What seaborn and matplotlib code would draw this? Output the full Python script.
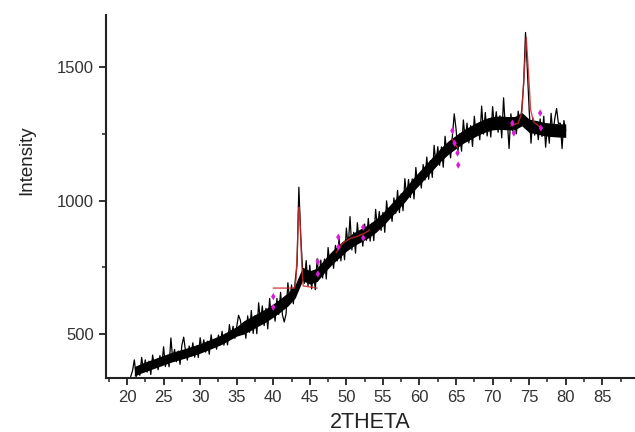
import numpy as np
import pandas as pd
import matplotlib
matplotlib.use("Agg")
import matplotlib.pyplot as plt
import seaborn as sns
from matplotlib.ticker import MultipleLocator

# measured pattern, 0.25 deg steps from 20.5 to 80.0
two_theta = np.arange(20.5, 80.001, 0.25)
intensity = [
    340, 362,
    403, 340, 378, 345,    # 21
    412, 364, 403, 357,    # 22
    398, 348, 421, 375,    # 23
    400, 366, 419, 381,    # 24
    452, 378, 419, 377,    # 25
    485, 404, 442, 396,    # 26
    436, 386, 458, 488,    # 27
    436, 402, 455, 417,    # 28
    467, 413, 454, 412,    # 29
    486, 439, 478, 432,    # 30
    473, 424, 497, 451,    # 31
    476, 443, 496, 459,    # 32
    510, 458, 500, 459,    # 33
    535, 489, 529, 484,    # 34
    526, 570, 552, 507,    # 35
    539, 484, 568, 506,    # 36
    588, 502, 568, 501,    # 37
    617, 543, 605, 531,    # 38
    596, 519, 633, 562,    # 39
    602, 548, 633, 573,    # 40
    656, 572, 545, 575,    # 41
    692, 620, 684, 613,    # 42
    700, 760, 1050, 870,   # 43
    745, 690, 775, 680,    # 44
    758, 669, 733, 666,    # 45
    782, 711, 777, 710,    # 46
    781, 706, 824, 756,    # 47
    799, 746, 832, 774,    # 48
    858, 774, 842, 778,    # 49
    897, 824, 940, 815,    # 50
    881, 803, 917, 844,    # 51
    884, 829, 912, 851,    # 52
    933, 848, 915, 850,    # 53
    967, 895, 959, 888,    # 54
    956, 881, 999, 930,    # 55
    974, 922, 1010, 952,   # 56
    1038, 955, 1025, 962,  # 57
    1082, 1013, 1079, 1011,  # 58
    1081, 1006, 1124, 1055,  # 59
    1099, 1047, 1135, 1077,  # 60
    1163, 1080, 1150, 1087,  # 61
    1207, 1136, 1202, 1132,  # 62
    1201, 1125, 1241, 1172,  # 63
    1214, 1160, 1245, 1325,  # 64
    1268, 1183, 1250, 1185,  # 65
    1302, 1228, 1290, 1216,  # 66
    1281, 1203, 1316, 1244,  # 67
    1284, 1228, 1354, 1249,  # 68
    1330, 1242, 1306, 1238,  # 69
    1352, 1274, 1333, 1256,  # 70
    1318, 1235, 1385, 1268,  # 71
    1304, 1195, 1325, 1260,  # 72
    1300, 1250, 1335, 1290,  # 73
    1345, 1440, 1630, 1490,  # 74
    1340, 1215, 1310, 1245,  # 75
    1289, 1228, 1306, 1240,  # 76
    1316, 1200, 1286, 1215,  # 77
    1327, 1249, 1307, 1345,  # 78
    1289, 1290, 1195, 1300,  # 79
    1262,
]

# solid core of the noisy trace, 1 deg steps 21..80
band_theta = np.arange(21, 81, 1)
band_lo = [342, 354, 364, 374, 384, 394, 402, 410, 419, 428,
           439, 450, 462, 477, 492, 500, 515, 530, 545, 563,
           583, 605, 635, 700, 687, 697, 730, 760, 785, 810,
           830, 845, 860, 880, 905, 935, 965, 995, 1030, 1060,
           1090, 1120, 1150, 1175, 1195, 1215, 1230, 1245, 1257, 1265,
           1267, 1265, 1265, 1280, 1255, 1250, 1243, 1240, 1238, 1237]
band_hi = [378, 390, 400, 410, 420, 430, 438, 446, 455, 464,
           475, 486, 498, 513, 528, 550, 565, 580, 595, 613,
           633, 655, 685, 750, 737, 747, 780, 810, 835, 860,
           880, 895, 910, 930, 955, 985, 1015, 1045, 1080, 1110,
           1140, 1170, 1200, 1225, 1245, 1265, 1280, 1295, 1307, 1315,
           1317, 1315, 1315, 1330, 1305, 1300, 1293, 1290, 1288, 1287]

# peak fits (red)
fit1_x = [40.0, 42.9, 43.1, 43.3, 43.45, 43.55, 43.7, 43.9, 44.1, 46.0]
fit1_y = [672, 672, 700, 820, 960, 975, 900, 760, 680, 672]
fit2_x = [48.6, 49.5, 50.5, 51.5, 52.5, 53.2]
fit2_y = [805, 840, 858, 866, 878, 890]
fit3_x = [64.4, 64.8, 65.2]
fit3_y = [1232, 1215, 1198]
fit4_x = [72.5, 73.5, 74.0, 74.3, 74.6, 74.9, 75.2, 75.6, 76.5]
fit4_y = [1280, 1290, 1330, 1470, 1612, 1480, 1340, 1295, 1275]

# fitted points (magenta)
mark_x = [40.0, 40.0, 46.1, 46.1, 48.9, 48.9, 52.3, 52.3,
          64.5, 64.8, 65.2, 65.3, 72.7, 72.9, 76.5, 76.6]
mark_y = [600, 640, 770, 725, 863, 826, 900, 860,
          1262, 1215, 1178, 1133, 1290, 1253, 1328, 1272]

sns.set_style("ticks")
plt.rcParams['font.family'] = ['Liberation Sans', 'DejaVu Sans']

fig = plt.figure(figsize=(6.35, 4.32), dpi=100)
ax = fig.add_axes([0.167, 0.125, 0.831, 0.840])

ax.fill_between(band_theta, band_lo, band_hi, color="black", lw=0, zorder=1)

df = pd.DataFrame({"2THETA": two_theta, "Intensity": intensity})
sns.lineplot(data=df, x="2THETA", y="Intensity", color="black", lw=0.9,
             estimator=None, sort=False, ax=ax, zorder=2)

for fx, fy in [(fit1_x, fit1_y), (fit2_x, fit2_y), (fit3_x, fit3_y), (fit4_x, fit4_y)]:
    ax.plot(fx, fy, color="#cc2a2a", lw=1.0, alpha=0.85, zorder=3)

sns.scatterplot(x=mark_x, y=mark_y, marker="d", s=14, color="#d81ed8",
                edgecolor="none", ax=ax, zorder=4)

ax.set_xlim(17.13, 89.3)
ax.set_ylim(335, 1695)
ax.xaxis.set_major_locator(MultipleLocator(5))
ax.xaxis.set_minor_locator(MultipleLocator(2.5))
ax.yaxis.set_major_locator(MultipleLocator(500))
ax.yaxis.set_minor_locator(MultipleLocator(250))
ax.set_xticks([20, 25, 30, 35, 40, 45, 50, 55, 60, 65, 70, 75, 80, 85])

ax.tick_params(which="major", direction="out", length=5, width=1.3,
               labelsize=12, labelcolor="#333333", color="#222222")
ax.tick_params(which="minor", direction="out", length=3, width=1.1, color="#222222")
for side in ["top", "right"]:
    ax.spines[side].set_visible(False)
for side in ["left", "bottom"]:
    ax.spines[side].set_linewidth(1.5)
    ax.spines[side].set_color("#222222")

ax.set_xlabel("2THETA", fontsize=15.5, color="#222222", labelpad=5)
ax.set_ylabel("Intensity", fontsize=13.5, color="#222222")
ax.yaxis.set_label_coords(-0.135, 0.6)

plt.savefig("out.png", dpi=100)
